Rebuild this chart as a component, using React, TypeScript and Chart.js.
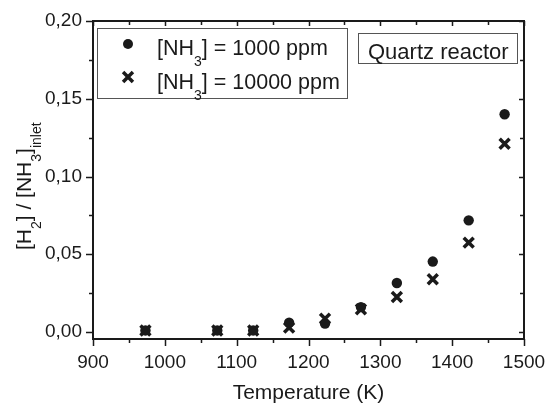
import React, { useEffect, useRef } from "react";
import { Chart, registerables } from "chart.js";

Chart.register(...registerables);

const temperatures = [973, 1073, 1123, 1173, 1223, 1273, 1323, 1373, 1423, 1473];
const ratio1000ppm = [0.001, 0.001, 0.001, 0.006, 0.0054, 0.016, 0.0315, 0.0453, 0.0718, 0.14];
const ratio10000ppm = [0.001, 0.001, 0.001, 0.0028, 0.0086, 0.0146, 0.0225, 0.0339, 0.0575, 0.1211];
const yTickValues = [0, 0.05, 0.1, 0.15, 0.2];
const xTitle = "Temperature (K)";
const boxLabel = "Quartz reactor";
const legendLabels = [
  [{ t: "[NH" }, { t: "3", sub: true }, { t: "] = 1000 ppm" }],
  [{ t: "[NH" }, { t: "3", sub: true }, { t: "] = 10000 ppm" }],
];
const yTitleParts = [
  { t: "[H" }, { t: "2", sub: true }, { t: "] / [NH" }, { t: "3", sub: true }, { t: "]" }, { t: "inlet", sub: true },
];

const FONT = "'Liberation Sans', Arial, sans-serif";
const INK = "#1a1a1a";

type Part = { t: string; sub?: boolean };

function drawRich(ctx: CanvasRenderingContext2D, parts: Part[], x: number, y: number, size: number, subSize: number, subOff: number) {
  let cx = x;
  ctx.textAlign = "left";
  ctx.textBaseline = "alphabetic";
  for (const p of parts) {
    ctx.font = `${p.sub ? subSize : size}px ${FONT}`;
    ctx.fillText(p.t, cx, p.sub ? y + subOff : y);
    cx += ctx.measureText(p.t).width;
  }
}

function drawCircle(ctx: CanvasRenderingContext2D, x: number, y: number, r: number) {
  ctx.beginPath();
  ctx.arc(x, y, r, 0, Math.PI * 2);
  ctx.fill();
}

function drawX(ctx: CanvasRenderingContext2D, x: number, y: number, r: number, w: number) {
  const o = r * Math.SQRT1_2;
  ctx.lineWidth = w;
  ctx.beginPath();
  ctx.moveTo(x - o, y - o);
  ctx.lineTo(x + o, y + o);
  ctx.moveTo(x + o, y - o);
  ctx.lineTo(x - o, y + o);
  ctx.stroke();
}

const decorPlugin = {
  id: "decor",
  afterDraw(chart: any) {
    const { ctx, chartArea } = chart;
    const { left, right, top, bottom } = chartArea;
    const xs = chart.scales.x;
    const ys = chart.scales.y;
    ctx.save();
    ctx.strokeStyle = INK;
    ctx.fillStyle = INK;
    // frame
    ctx.lineWidth = 2;
    ctx.strokeRect(left, top, right - left, bottom - top);
    // x ticks
    ctx.lineWidth = 1.5;
    ctx.beginPath();
    for (let t = 900; t <= 1500; t += 50) {
      const px = Math.round(xs.getPixelForValue(t)) + 0.5;
      const major = t % 100 === 0;
      ctx.moveTo(px, bottom);
      ctx.lineTo(px, bottom + (major ? 7 : 4));
      ctx.moveTo(px, top);
      ctx.lineTo(px, top + (major ? 5 : 4));
    }
    // y ticks
    for (let i = 0; i <= 8; i++) {
      const v = i * 0.025;
      const py = Math.round(ys.getPixelForValue(v)) + 0.5;
      const major = i % 2 === 0;
      ctx.moveTo(left, py);
      ctx.lineTo(left - (major ? 7 : 4), py);
      ctx.moveTo(right, py);
      ctx.lineTo(right - (major ? 5 : 4), py);
    }
    ctx.stroke();

    // legend box
    ctx.lineWidth = 1;
    ctx.strokeStyle = "#555";
    ctx.strokeRect(97.5, 28.5, 250, 70);
    ctx.strokeStyle = INK;
    drawCircle(ctx, 128, 44, 5);
    drawX(ctx, 128, 77, 7, 3.5);
    drawRich(ctx, legendLabels[0], 157, 55, 21.5, 14, 11);
    drawRich(ctx, legendLabels[1], 157, 89, 21.5, 14, 11);

    // quartz box
    ctx.lineWidth = 1;
    ctx.strokeStyle = "#555";
    ctx.strokeRect(358.5, 33.5, 159, 30);
    ctx.font = `22px ${FONT}`;
    ctx.textAlign = "left";
    ctx.textBaseline = "alphabetic";
    ctx.fillText(boxLabel, 368, 58.5);

    // x title
    ctx.font = `21px ${FONT}`;
    ctx.textAlign = "center";
    ctx.fillText(xTitle, (left + right) / 2, 399);

    // y title
    ctx.save();
    ctx.translate(31, 250);
    ctx.rotate(-Math.PI / 2);
    drawRich(ctx, yTitleParts, 0, 0, 21, 14, 10);
    ctx.restore();

    ctx.restore();
  },
};

export default function App() {
  const ref = useRef<HTMLCanvasElement | null>(null);
  useEffect(() => {
    if (!ref.current) return;
    const chart = new Chart(ref.current, {
      type: "scatter",
      data: {
        datasets: [
          {
            label: "1000",
            data: temperatures.map((t, i) => ({ x: t, y: ratio1000ppm[i] })),
            pointStyle: "circle",
            pointRadius: 5.2,
            pointBackgroundColor: INK,
            pointBorderWidth: 0,
            showLine: false,
          },
          {
            label: "10000",
            data: temperatures.map((t, i) => ({ x: t, y: ratio10000ppm[i] })),
            pointStyle: "crossRot",
            pointRadius: 7,
            pointBorderColor: INK,
            pointBorderWidth: 3.5,
            showLine: false,
          },
        ],
      },
      options: {
        animation: false,
        responsive: false,
        layout: { padding: { top: 21, right: 21, left: 0, bottom: 0 } },
        plugins: { legend: { display: false }, tooltip: { enabled: false } },
        scales: {
          x: {
            type: "linear",
            min: 900,
            max: 1500,
            afterFit: (s: any) => { s.height = 65; s.paddingRight = 0; s.paddingLeft = 0; },
            ticks: {
              stepSize: 100,
              autoSkip: false,
              maxRotation: 0,
              color: INK,
              font: { size: 19, family: FONT },
              padding: 5,
              callback: (v: any) => String(Math.round(Number(v))),
            },
            grid: { drawOnChartArea: false, drawTicks: true, tickLength: 7, color: "rgba(0,0,0,0)" },
            border: { display: false },
          },
          y: {
            type: "linear",
            min: -0.0045,
            max: 0.2,
            afterFit: (s: any) => { s.width = 93; s.paddingTop = 0; s.paddingBottom = 0; },
            afterBuildTicks: (s: any) => { s.ticks = yTickValues.map((v) => ({ value: v })); },
            ticks: {
              color: INK,
              font: { size: 19, family: FONT },
              padding: 4,
              callback: (v: any) => Number(v).toFixed(2).replace(".", ","),
            },
            grid: { drawOnChartArea: false, drawTicks: true, tickLength: 7, color: "rgba(0,0,0,0)" },
            border: { display: false },
          },
        },
      },
      plugins: [decorPlugin],
    });
    return () => chart.destroy();
  }, []);
  return (
    <div style={{ position: "absolute", left: 0, top: 0, width: 545, height: 404, background: "#fff" }}>
      <canvas ref={ref} width={545} height={404} style={{ display: "block" }} />
    </div>
  );
}
